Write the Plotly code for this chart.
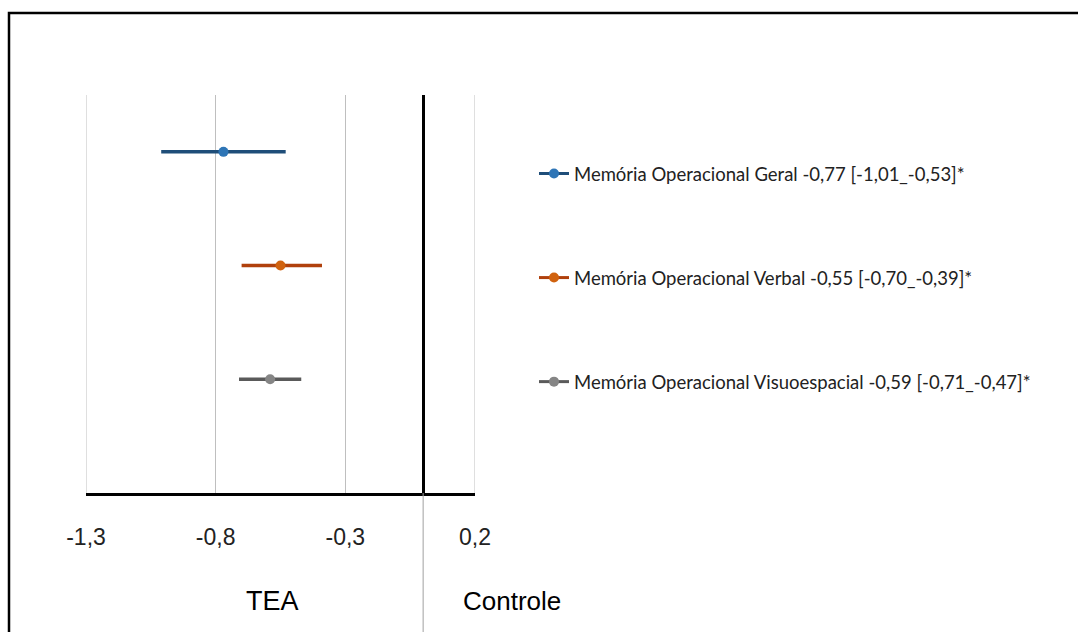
import plotly.graph_objects as go

series_names = [
    "Memória Operacional Geral -0,77 [-1,01_-0,53]*",
    "Memória Operacional Verbal -0,55 [-0,70_-0,39]*",
    "Memória Operacional Visuoespacial -0,59 [-0,71_-0,47]*",
]
estimates = [-0.77, -0.55, -0.59]
ci_low = [-1.01, -0.70, -0.71]
ci_high = [-0.53, -0.39, -0.47]
rows = [3, 2, 1]
line_colors = ["#1F4E79", "#B0400C", "#5A5A5A"]
marker_colors = ["#2E75B6", "#D0620F", "#858585"]

tick_vals = [-1.3, -0.8, -0.3, 0.2]
tick_text = ["-1,3", "-0,8", "-0,3", "0,2"]
group_labels = ["TEA", "Controle"]

fig = go.Figure()
for i in range(len(series_names)):
    fig.add_trace(go.Scatter(
        x=[ci_low[i], ci_high[i]], y=[rows[i], rows[i]],
        mode="lines", line=dict(color=line_colors[i], width=3.5),
        showlegend=False, hoverinfo="skip", legendgroup=f"g{i}",
    ))
    fig.add_trace(go.Scatter(
        x=[estimates[i]], y=[rows[i]],
        mode="lines+markers", name=series_names[i],
        line=dict(color=line_colors[i], width=3),
        marker=dict(color=marker_colors[i], size=10),
        legendgroup=f"g{i}",
    ))

W, H = 1078, 632
L, R, T, B = 86, 475, 95, 493
pw, ph = R - L, B - T

def px(xp):
    return (xp - L) / pw

def py(yp):
    return (B - yp) / ph

shapes = [
    dict(type="rect", xref="paper", yref="paper",
         x0=px(9), x1=px(1090), y0=py(13), y1=py(650),
         line=dict(color="black", width=2.5), layer="above"),
    dict(type="line", xref="x", yref="paper",
         x0=0, x1=0, y0=py(632), y1=0,
         line=dict(color="#A0A0A0", width=1)),
]
for xv in (tick_vals[0], tick_vals[-1]):
    shapes.append(dict(type="line", xref="x", yref="paper",
                       x0=xv, x1=xv, y0=0, y1=1, layer="below",
                       line=dict(color="#BFBFBF", width=1)))

fig.update_layout(
    width=W, height=H,
    margin=dict(l=L, r=W - R, t=T, b=H - B),
    paper_bgcolor="white", plot_bgcolor="white",
    separators=",.",
    showlegend=True,
    legend=dict(
        x=px(534), y=py(155), xanchor="left", yanchor="top",
        font=dict(family="Lato", size=18.5, color="#222222"),
        traceorder="grouped", tracegroupgap=77,
        bgcolor="rgba(0,0,0,0)",
    ),
    xaxis=dict(
        range=[-1.3, 0.2], tickvals=tick_vals, ticktext=tick_text,
        showgrid=True, gridcolor="#BFBFBF", gridwidth=1,
        zeroline=True, zerolinecolor="black", zerolinewidth=2.5,
        showline=True, linecolor="black", linewidth=2.5,
        ticks="outside", ticklen=22, tickcolor="rgba(0,0,0,0)",
        tickfont=dict(family="Liberation Sans", size=23, color="#222222"),
        fixedrange=True,
    ),
    yaxis=dict(
        range=[0, 3.5], visible=False, showgrid=False, zeroline=False,
        fixedrange=True,
    ),
    shapes=shapes,
    annotations=[
        dict(text=group_labels[0], xref="paper", yref="paper",
             x=px(272), y=py(601), xanchor="center", yanchor="middle",
             showarrow=False,
             font=dict(family="Liberation Sans", size=27, color="black")),
        dict(text=group_labels[1], xref="paper", yref="paper",
             x=px(512), y=py(601), xanchor="center", yanchor="middle",
             showarrow=False,
             font=dict(family="Liberation Sans", size=26, color="black")),
    ],
)

fig.write_html("out.html")
